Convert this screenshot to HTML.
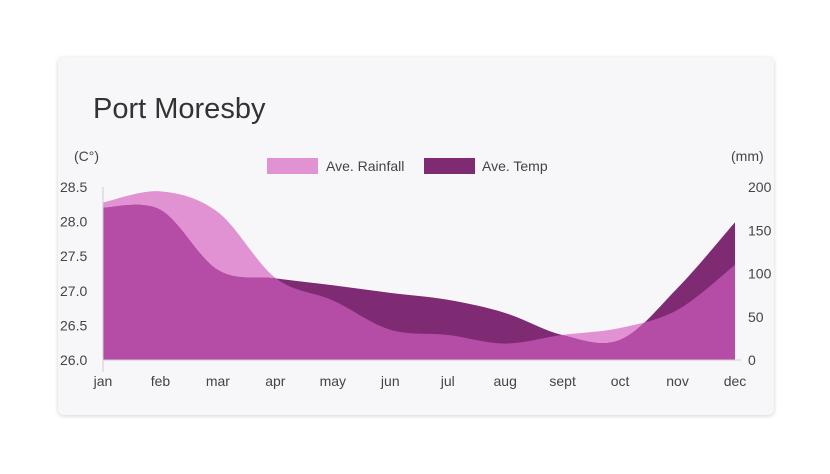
<!DOCTYPE html>
<html><head><meta charset="utf-8"><style>
body{margin:0;background:#fff;width:830px;height:474px;overflow:hidden;font-family:"Liberation Sans",sans-serif}
#card{position:absolute;left:58px;top:57px;width:716px;height:358px;background:#f7f7f9;border-radius:6px;box-shadow:0 1px 4px rgba(0,0,0,.18)}
#title{position:absolute;left:93px;top:93px;font-size:29px;color:#333;margin:0;font-weight:normal}
svg{position:absolute;left:0;top:0}
text{font-family:"Liberation Sans",sans-serif;fill:#444;font-size:14px}
</style></head><body>
<div id="card"></div>
<h1 id="title">Port Moresby</h1>
<svg id="chart" width="830" height="474">
<defs><clipPath id="rainClip"><path id="rainClipPath"/></clipPath></defs>
<g id="g"></g>
</svg>
<script>
const months=["jan","feb","mar","apr","may","jun","jul","aug","sept","oct","nov","dec"];
const temp=[28.2,28.17,27.3,27.18,27.08,26.97,26.87,26.68,26.36,26.29,27.04,27.99];
const rain=[182,195,171,95,69,35,29,19,29,37,58,110];
const tempTicks=[26.0,26.5,27.0,27.5,28.0,28.5];
const rainTicks=[0,50,100,150,200];
const X0=103,X1=735,Y0=360,Y1=187;
const x=i=>X0+i*(X1-X0)/(months.length-1);
const yT=v=>Y0-(v-26)/(28.5-26)*(Y0-Y1);
const yR=v=>Y0-v/200*(Y0-Y1);
const NS="http://www.w3.org/2000/svg";
const g=document.getElementById('g');
function el(t,a){const e=document.createElementNS(NS,t);for(const k in a)e.setAttribute(k,a[k]);return e;}
function areaPath(vals,fy){
  const p=vals.map((v,i)=>[x(i),fy(v)]);
  let d=`M${p[0][0]},${Y0}L${p[0][0]},${p[0][1]}`;
  for(let i=0;i<p.length-1;i++){
    const p0=p[Math.max(0,i-1)],p1=p[i],p2=p[i+1],p3=p[Math.min(p.length-1,i+2)];
    const t=0.5/3*2/1;
    const c1=[p1[0]+(p2[0]-p0[0])/6,p1[1]+(p2[1]-p0[1])/6];
    const c2=[p2[0]-(p3[0]-p1[0])/6,p2[1]-(p3[1]-p1[1])/6];
    d+=`C${c1[0]},${c1[1]} ${c2[0]},${c2[1]} ${p2[0]},${p2[1]}`;
  }
  d+=`L${p[p.length-1][0]},${Y0}Z`;return d;
}
const rd=areaPath(rain,yR),td=areaPath(temp,yT);
document.getElementById('rainClipPath').setAttribute('d',rd);
const ra=el('path',{d:rd,fill:'#e192d2'});


g.appendChild(ra);
const ta=el('path',{d:td,fill:'#7f2b74'});


g.appendChild(ta);
const ov=el('path',{d:td,fill:'#b54ca6','clip-path':'url(#rainClip)'});


g.appendChild(ov);
const ax=el('line',{x1:X0,y1:Y1,x2:X0,y2:Y0+12,stroke:'#ccc'});


g.appendChild(ax);
const bx=el('line',{x1:X0,y1:Y0,x2:X1+6,y2:Y0,stroke:'#ccc'});


g.appendChild(bx);
tempTicks.forEach(v=>{const t=el('text',{x:60,y:yT(v)+5});t.textContent=v.toFixed(1);


g.appendChild(t);});
rainTicks.forEach(v=>{const t=el('text',{x:748,y:yR(v)+5});t.textContent=v;


g.appendChild(t);});
months.forEach((m,i)=>{const t=el('text',{x:x(i),y:386,'text-anchor':'middle'});t.textContent=m;


g.appendChild(t);});
const lu=el('text',{x:74,y:161,'font-size':13});lu.textContent='(C°)';


g.appendChild(lu);
const ru=el('text',{x:731,y:161,'font-size':13});ru.textContent='(mm)';


g.appendChild(ru);
const l1=el('rect',{x:267,y:158,width:51,height:16,fill:'#e192d2'});


g.appendChild(l1);
const t1=el('text',{x:326,y:171});t1.textContent='Ave. Rainfall';


g.appendChild(t1);
const l2=el('rect',{x:424,y:158,width:51,height:16,fill:'#7f2b74'});


g.appendChild(l2);
const t2=el('text',{x:482,y:171});t2.textContent='Ave. Temp';


g.appendChild(t2);
</script>
</body></html>
